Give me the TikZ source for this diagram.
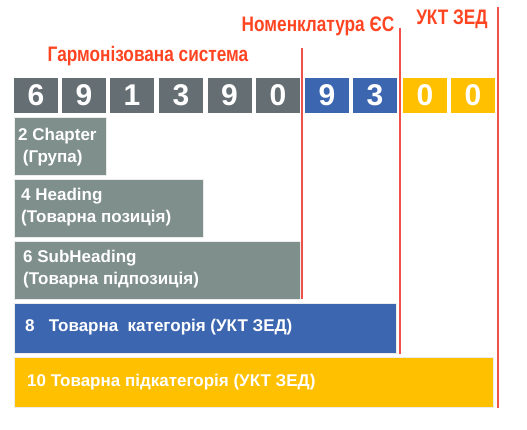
\documentclass[tikz,border=0pt]{standalone}
\usepackage{fontspec}
\setmainfont{Liberation Sans}
\newfontfamily\narrowfont[FakeStretch=0.82]{Liberation Sans}
\definecolor{digitgray}{HTML}{646E73}
\definecolor{bargray}{HTML}{7F8F8C}
\definecolor{codeblue}{HTML}{3D66B0}
\definecolor{codeyellow}{HTML}{FFC000}
\definecolor{titlered}{HTML}{FF4422}
\definecolor{linered}{HTML}{F0504A}
\begin{document}
\begin{tikzpicture}[x=1pt,y=-1pt,
  digit/.style={minimum width=44pt,minimum height=35pt,inner sep=0pt,text=white,
    font=\fontsize{30}{30}\selectfont\bfseries},
  gdigit/.style={digit,fill=digitgray},
  bdigit/.style={digit,fill=codeblue},
  ydigit/.style={digit,fill=codeyellow},
  bar/.style={anchor=north west,inner sep=0pt,draw=white!85!gray,line width=0.6pt},
  bartext/.style={anchor=west,text=white,font=\fontsize{17}{22}\selectfont\bfseries,align=left,inner sep=0pt},
  title/.style={text=titlered,font=\narrowfont\fontsize{21}{21}\selectfont\bfseries,inner sep=0pt},
  sep/.style={linered,line width=2pt}]
\useasboundingbox (0,0) rectangle (527,429);
% digit boxes
\node[gdigit] (d1) at (36,95) {6};
\node[gdigit] (d2) at (84,95) {9};
\node[gdigit] (d3) at (132,95) {1};
\node[gdigit] (d4) at (181,95) {3};
\node[gdigit] (d5) at (229.5,95) {9};
\node[gdigit] (d6) at (278,95) {0};
\node[bdigit] (d7) at (327,95) {9};
\node[bdigit] (d8) at (375,95) {3};
\node[ydigit] (d9) at (425,95) {0};
\node[ydigit] (d10) at (473,95) {0};
% bars
\node[bar,fill=bargray,minimum width=92pt,minimum height=58pt] (b2) at (14,117) {};
\node[bartext] (t2) at (18,147) {2 Chapter\\\ (Група)};
\node[bar,fill=bargray,minimum width=189pt,minimum height=58pt] (b4) at (14,179) {};
\node[bartext] (t4) at (21,207) {4 Heading\\(Товарна позиція)};
\node[bar,fill=bargray,minimum width=286pt,minimum height=58pt] (b6) at (14,241) {};
\node[bartext] (t6) at (23,269) {6 SubHeading\\(Товарна підпозиція)};
\node[bar,fill=codeblue,minimum width=382pt,minimum height=50pt] (b8) at (14,303) {};
\node[bartext] (t8) at (25,327) {8\ \ \ Товарна\ \ категорія (УКТ ЗЕД)};
\node[bar,fill=codeyellow,minimum width=479pt,minimum height=50pt] (b10) at (14,357) {};
\node[bartext] (t10) at (27,382) {10 Товарна підкатегорія (УКТ ЗЕД)};
% separators
\coordinate (s1t) at (302,48);  \coordinate (s1b) at (302,299);
\coordinate (s2t) at (399.5,28); \coordinate (s2b) at (399.5,354);
\coordinate (s3t) at (497.5,7);  \coordinate (s3b) at (497.5,408);
\draw[sep] (s1t) -- (s1b);
\draw[sep] (s2t) -- (s2b);
\draw[sep] (s3t) -- (s3b);
% titles
\node[title] (h1) at (148,56) {Гармонізована система};
\node[title] (h2) at (318,26) {Номенклатура ЄС};
\node[title] (h3) at (452,19) {УКТ ЗЕД};
\end{tikzpicture}
\end{document}
